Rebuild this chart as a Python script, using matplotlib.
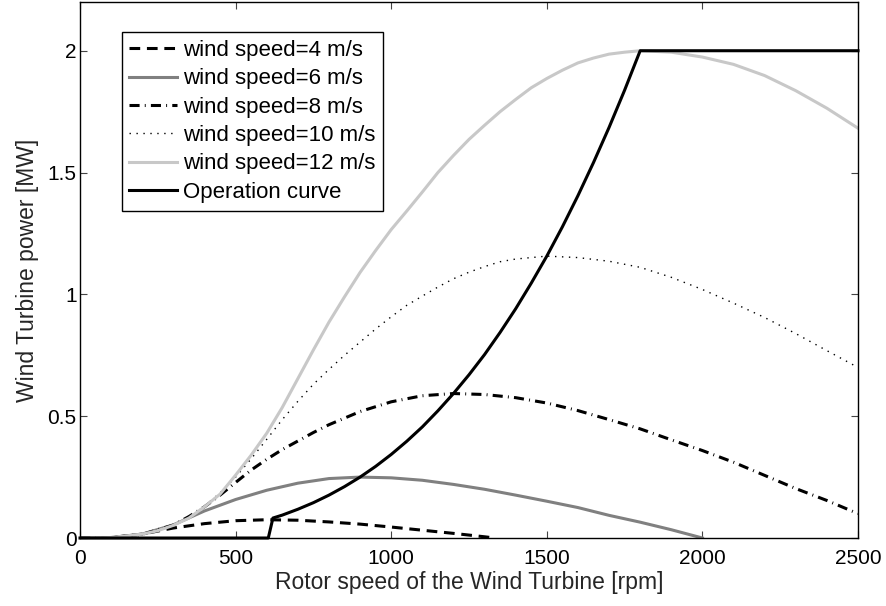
import matplotlib
matplotlib.use("Agg")
import matplotlib.pyplot as plt

plt.rcParams['font.family'] = ['Liberation Sans', 'DejaVu Sans']

# turbine power [MW] against rotor speed [rpm], one pair per wind speed
rpm_4 = [0, 100, 200, 300, 400, 500, 600, 700, 800, 900, 1000, 1100, 1200,
         1300, 1333]
p_4 = [0, 0.002, 0.016, 0.041, 0.059, 0.071, 0.075, 0.073, 0.066, 0.057,
       0.045, 0.032, 0.019, 0.005, 0]

rpm_6 = [0, 100, 200, 300, 400, 500, 600, 700, 800, 900, 1000, 1100, 1200,
         1300, 1400, 1500, 1600, 1700, 1800, 1900, 2000]
p_6 = [0, 0.002, 0.016, 0.054, 0.111, 0.158, 0.196, 0.225, 0.244, 0.25,
       0.247, 0.237, 0.22, 0.20, 0.176, 0.151, 0.125, 0.093, 0.065, 0.034, 0]

rpm_8 = [0, 100, 200, 300, 350, 400, 450, 500, 550, 600, 650, 700, 750, 800,
         900, 1000, 1100, 1200, 1300, 1400, 1500, 1600, 1700, 1800, 1900,
         2000, 2100, 2200, 2300, 2400, 2500]
p_8 = [0, 0.002, 0.015, 0.053, 0.088, 0.128, 0.176, 0.228, 0.279, 0.323,
       0.363, 0.398, 0.433, 0.465, 0.519, 0.559, 0.584, 0.593, 0.589, 0.576,
       0.554, 0.523, 0.486, 0.448, 0.403, 0.359, 0.311, 0.257, 0.203, 0.154,
       0.10]

rpm_10 = [0, 100, 200, 300, 350, 400, 450, 500, 550, 600, 650, 700, 750, 800,
          850, 900, 950, 1000, 1050, 1100, 1150, 1200, 1250, 1300, 1350, 1400,
          1500, 1600, 1700, 1800, 1900, 2000, 2100, 2200, 2300, 2400, 2500]
p_10 = [0, 0.002, 0.016, 0.052, 0.082, 0.131, 0.185, 0.25, 0.325, 0.405,
        0.486, 0.561, 0.631, 0.692, 0.75, 0.804, 0.858, 0.908, 0.955, 0.993,
        1.03, 1.064, 1.091, 1.114, 1.134, 1.145, 1.157, 1.151, 1.136, 1.111,
        1.07, 1.02, 0.964, 0.905, 0.839, 0.769, 0.70]

rpm_12 = [0, 100, 200, 250, 300, 350, 400, 450, 500, 550, 600, 650, 700, 750,
          800, 850, 900, 950, 1000, 1050, 1100, 1150, 1200, 1250, 1300, 1350,
          1400, 1450, 1500, 1550, 1600, 1650, 1700, 1750, 1800, 1900, 2000,
          2100, 2200, 2300, 2400, 2500]
p_12 = [0, 0.002, 0.016, 0.03, 0.052, 0.082, 0.128, 0.18, 0.258, 0.34, 0.43,
        0.536, 0.654, 0.772, 0.886, 0.99, 1.09, 1.18, 1.266, 1.342, 1.42,
        1.50, 1.57, 1.636, 1.694, 1.75, 1.80, 1.848, 1.886, 1.92, 1.95, 1.97,
        1.986, 1.994, 2.0, 1.994, 1.974, 1.944, 1.898, 1.836, 1.764, 1.682]

# operation curve: optimal tracking, then rated power
rpm_op = [0, 605, 620, 650, 700, 750, 800, 850, 900, 950, 1000, 1050, 1100,
          1150, 1200, 1250, 1300, 1350, 1400, 1450, 1500, 1550, 1600, 1650,
          1700, 1750, 1800, 2500]
p_op = [0, 0, 0.082, 0.094, 0.118, 0.145, 0.176, 0.211, 0.25, 0.294, 0.343,
        0.397, 0.456, 0.522, 0.593, 0.670, 0.753, 0.844, 0.941, 1.046, 1.157,
        1.277, 1.405, 1.541, 1.685, 1.838, 2.0, 2.0]

fig = plt.figure(figsize=(8.86, 6.06), dpi=100)
ax = fig.add_axes([0.0903, 0.1122, 0.8781, 0.8845])

lw = 2.2
ax.plot(rpm_4, p_4, color='black', lw=lw, dashes=(3.5, 2.2),
        label='wind speed=4 m/s')
ax.plot(rpm_6, p_6, color='#808080', lw=lw, label='wind speed=6 m/s')
ax.plot(rpm_8, p_8, color='black', lw=lw, dashes=(3.3, 1.7, 0.3, 1.7),
        label='wind speed=8 m/s')
ax.plot(rpm_10, p_10, color='black', lw=1.0, dashes=(1, 4),
        label='wind speed=10 m/s')
ax.plot(rpm_12, p_12, color='#c8c8c8', lw=lw, label='wind speed=12 m/s')
ax.plot(rpm_op, p_op, color='black', lw=lw, label='Operation curve',
        clip_on=False)

ax.set_xlim(0, 2500)
ax.set_ylim(0, 2.2)
ax.set_xticks([0, 500, 1000, 1500, 2000, 2500])
ax.set_xticklabels(['0', '500', '1000', '1500', '2000', '2500'])
ax.set_yticks([0, 0.5, 1, 1.5, 2])
ax.set_yticklabels(['0', '0.5', '1', '1.5', '2'])
ax.tick_params(direction='in', length=5, width=0.8, color='#444444',
               top=True, right=True, labelsize=15)
ax.tick_params(axis='x', pad=8)
ax.tick_params(axis='y', pad=2.5)
for s in ax.spines.values():
    s.set_linewidth(1.0)
    s.set_color('black')

ax.set_xlabel('Rotor speed of the Wind Turbine [rpm]', fontsize=16.5,
              color='#262626', labelpad=2)
ax.set_ylabel('Wind Turbine power [MW]', fontsize=16.5, color='#262626',
              labelpad=6)

leg = ax.legend(loc='upper left', bbox_to_anchor=(0.0536, 0.9435),
                borderaxespad=0, fontsize=16, handlelength=2.16,
                handletextpad=0.25, labelspacing=0.33, borderpad=0.35,
                fancybox=False, framealpha=1)
leg.get_frame().set_edgecolor('black')
leg.get_frame().set_linewidth(1.0)

fig.savefig('out.png', dpi=100)
